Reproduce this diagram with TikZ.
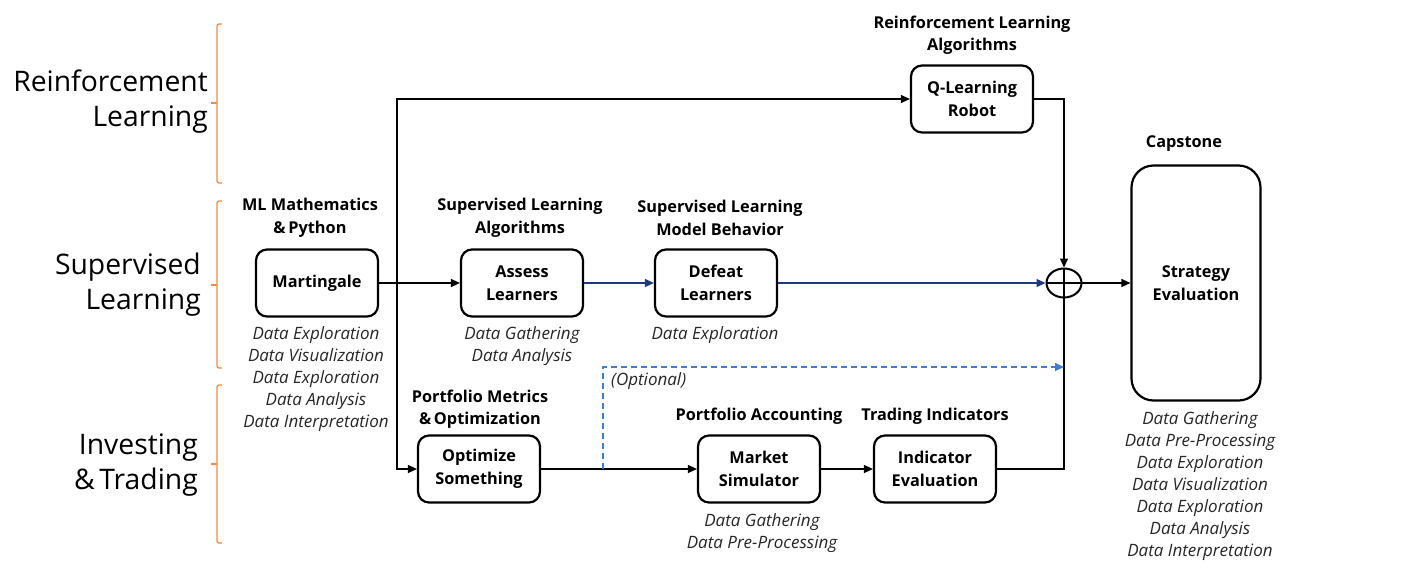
\documentclass[tikz,border=0pt]{standalone}
\usepackage{fontspec}
\setmainfont{Open Sans}
\usetikzlibrary{arrows.meta,shapes.geometric}
\definecolor{braceorange}{HTML}{F08A45}
\definecolor{navyline}{HTML}{1F3A78}
\definecolor{dashblue}{HTML}{3C7FCC}
\begin{document}
\begin{tikzpicture}[x=1pt,y=-1pt,
  box/.style={draw, line width=2.2pt, rounded corners=11pt, minimum width=122pt, minimum height=67pt, align=center, inner sep=0pt, font=\bfseries\fontsize{16.3}{22.5}\selectfont},
  title/.style={align=center, inner sep=0pt, font=\bfseries\fontsize{16.3}{22.5}\selectfont},
  desc/.style={align=center, inner sep=0pt, font=\itshape\fontsize{17}{22}\selectfont, text=black!85},
  big/.style={align=right, inner sep=0pt, font=\fontsize{28.3}{35}\selectfont},
  conn/.style={line width=1.3pt, -{Triangle[length=9pt,width=8pt]}},
  plain/.style={line width=1.3pt},
  bracket/.style={draw=braceorange, line width=1.3pt, rounded corners=2pt}
]
\useasboundingbox (0,0) rectangle (1422,584);

% left category labels
\node[big, anchor=east] (labRL) at (208,102) {Reinforcement\\Learning};
\node[big, anchor=east] (labSL) at (201,285) {Supervised\\Learning};
\node[big, anchor=east] (labIT) at (198,465) {Investing\\\&\,Trading};

% brackets
\draw[bracket] (222,24) -- (217,24) -- (217,183) -- (222,183);
\draw[bracket] (217,103) -- (211,103);
\draw[bracket] (222,201) -- (217,201) -- (217,368) -- (222,368);
\draw[bracket] (217,285) -- (211,285);
\draw[bracket] (222,385) -- (217,385) -- (217,543) -- (222,543);
\draw[bracket] (217,464) -- (211,464);

% boxes
\node[box] (mart) at (317,283) {Martingale};
\node[box] (assess) at (522,283) {Assess\\Learners};
\node[box] (defeat) at (716,283) {Defeat\\Learners};
\node[box] (qrob) at (972,99) {Q-Learning\\Robot};
\node[box] (opt) at (479,469) {Optimize\\Something};
\node[box] (mkt) at (759,469) {Market\\Simulator};
\node[box] (ind) at (935,469) {Indicator\\Evaluation};
\node[box, minimum width=129pt, minimum height=235pt, rounded corners=22pt] (strat) at (1196,283) {Strategy\\Evaluation};
\node[draw, ellipse, line width=2pt, minimum width=35pt, minimum height=29pt, inner sep=0pt] (sum) at (1064,283) {};
\draw[line width=2pt] (sum.north) -- (sum.south);
\draw[line width=2pt] (sum.west) -- (sum.east);

% titles
\node[title] (tmart) at (310,218) {ML Mathematics\\\&\,Python};
\node[title] (tassess) at (520,218) {Supervised Learning\\Algorithms};
\node[title] (tdefeat) at (720,218) {Supervised Learning\\Model Behavior};
\node[title] (tqrob) at (972,35) {Reinforcement Learning\\Algorithms};
\node[title] (tstrat) at (1184,144) {Capstone};
\node[title] (topt) at (480,409) {Portfolio Metrics\\\&\,Optimization};
\node[title] (tmkt) at (759,416) {Portfolio Accounting};
\node[title] (tind) at (935,416) {Trading Indicators};

% descriptions
\node[desc] (dmart) at (316,379) {Data Exploration\\Data Visualization\\Data Exploration\\Data Analysis\\Data Interpretation};
\node[desc] (dassess) at (522,346) {Data Gathering\\Data Analysis};
\node[desc] (ddefeat) at (715,335) {Data Exploration};
\node[desc] (dmkt) at (762,533) {Data Gathering\\Data Pre-Processing};
\node[desc] (dstrat) at (1200,486) {Data Gathering\\Data Pre-Processing\\Data Exploration\\Data Visualization\\Data Exploration\\Data Analysis\\Data Interpretation};
\node[desc, anchor=west] (dopt) at (611,381) {(Optional)};

% connectors
\coordinate (split) at (397,283);
\draw[conn] (mart.east) -- (assess.west);
\draw[conn] (split) |- (qrob.west);
\draw[conn] (split) |- (opt.west);
\draw[conn, navyline] (assess.east) -- (defeat.west);
\draw[conn, navyline] (defeat.east) -- (sum.west);
\draw[conn] (qrob.east) -| (sum.north);
\draw[conn] (sum.east) -- (strat.west);
\draw[conn] (opt.east) -- (mkt.west);
\draw[conn] (mkt.east) -- (ind.west);
\draw[plain] (ind.east) -| (sum.south);
\coordinate (dstart) at (603,469);
\coordinate (dend) at (1064,367);
\draw[conn, dashblue, dash pattern=on 6pt off 4pt] (dstart) |- (dend);
\end{tikzpicture}
\end{document}
